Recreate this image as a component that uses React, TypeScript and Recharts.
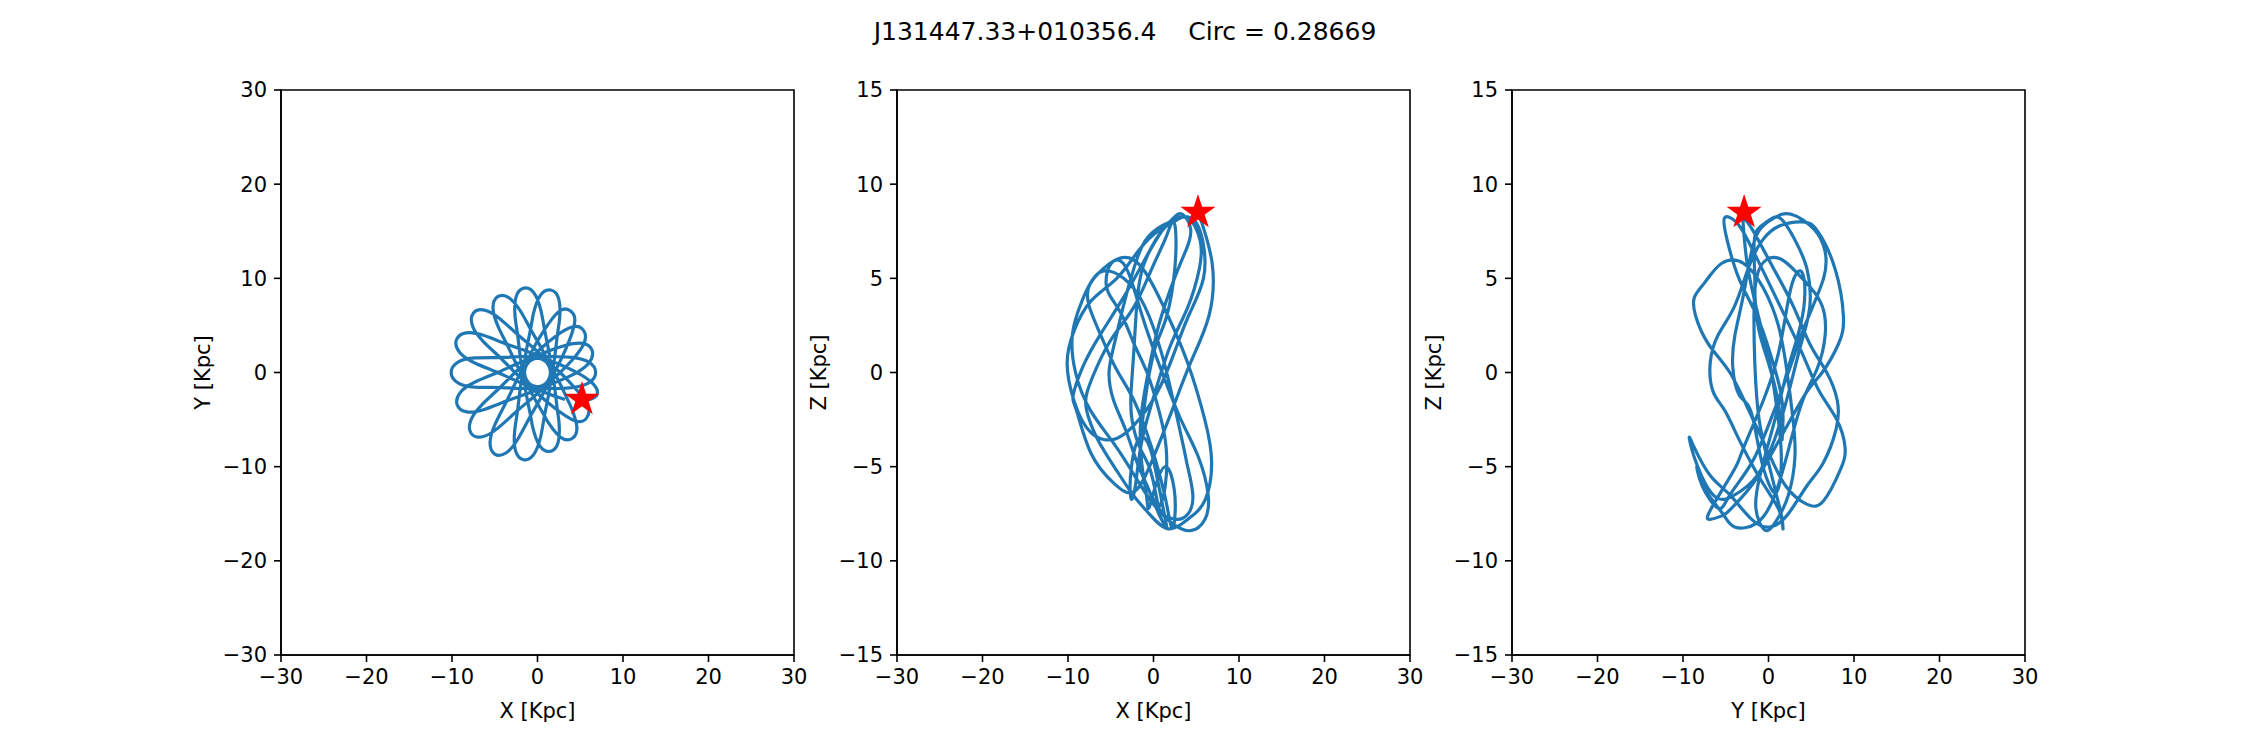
import React from 'react';
import { ScatterChart, Scatter, XAxis, YAxis, ReferenceArea } from 'recharts';

const TITLE = 'J131447.33+010356.4    Circ = 0.28669';
const XY_TICKS = [-30, -20, -10, 0, 10, 20, 30];
const Z_TICKS = [-15, -10, -5, 0, 5, 10, 15];

// orbit path (kpc)
const ORBIT_X = [
  5.25, 6.86, 6.48, 4.31, 2.18, 0.0, -2.18,
  -4.59, -7.3, -9.02, -9.4, -8.27, -6.24, -3.49, -1.01, 0.96, 2.32,
  3.39, 4.35, 3.8, 2.45, 0.61, -0.62, -1.48, -1.38,
  -0.83, -0.54, 0.25, 1.48, 2.42, 2.52, 2.32, 1.97, 1.3, -0.21,
  -2.27, -4.37, -6.19, -7.51, -7.6, -6.36, -4.32, -2.39, -0.51, 1.7,
  4.0, 6.0, 6.8, 6.0, 4.0, 1.7, -0.51, -2.39,
  -4.32, -6.59, -7.83, -7.74, -6.42, -4.6, -2.27, -0.21, 1.3, 1.97,
  2.32, 2.59, 2.49, 1.55, 0.32, -0.47, -0.83, -1.38, -1.48, -0.62,
  0.76, 1.31, 2.7, 4.05, 4.6, 3.99, 3.54, 2.32, 0.96, -1.01,
  -3.49, -6.33, -8.36, -9.49, -9.12, -7.39, -4.59, -2.18, 0.0, 2.18,
  4.31, 6.01, 6.39, 5.26, 3.21, 1.01, -0.96, -2.32,
  -3.54, -4.94, -5.55, -5.0, -3.65, -2.26, -0.76, 0.62, 1.48, 1.38,
  0.83, 0.43, -0.36, -1.58, -2.52, -2.62, -2.32, -1.97, -1.3, 0.21,
  2.04, 4.43, 5.75, 5.84, 4.09, 2.39, 0.51, -1.7,
  -4.3, -7.3, -9.3, -10.1, -9.3, -7.3, -4.3, -1.7, 0.51, 2.39,
  4.09, 5.46, 5.36, 4.04, 2.04, 0.21, -1.3, -1.97,
  -2.32, -2.67, -2.58, -1.63, -0.41, 0.38, 0.83, 1.38, 1.48, 0.62,
  -0.76, -1.91, -3.3, -4.65, -5.2, -4.59, -3.54, -2.32, -0.96, 1.01, 3.21,
];
const ORBIT_Y = [
  -3.05, -2.5, -1.19, 0.14, 1.01, 1.5, 1.01,
  0.03, -1.01, -2.11, -3.42, -4.18, -3.92, -2.98, -2.18, -1.15, 0.62,
  2.66, 5.34, 6.58, 6.44, 4.26, 2.32, 0.26, -1.97,
  -4.51, -5.88, -7.77, -8.37, -7.39, -5.34, -3.96, -1.38, 0.75, 2.39,
  3.99, 5.69, 6.63, 6.3, 4.94, 3.31, 1.54, -0.21, -1.41, -1.7,
  -1.6, -1.1, 0.0, 1.1, 1.6, 1.7, 1.41, 0.21,
  -1.54, -3.51, -5.14, -6.49, -6.82, -5.88, -3.99, -2.39, -0.75, 1.38,
  3.96, 5.74, 7.79, 8.76, 8.17, 6.28, 4.51, 1.97, -0.26, -2.32,
  -4.52, -5.37, -6.87, -7.01, -5.77, -3.82, -2.92, -0.62, 1.15, 2.18,
  2.97, 3.95, 4.21, 3.45, 2.15, 1.04, -0.03, -1.01, -1.5, -1.01,
  -0.14, 1.02, 2.33, 3.09, 2.87, 2.18, 1.15, -0.62,
  -2.92, -5.46, -7.42, -8.66, -8.52, -7.01, -4.52, -2.32, -0.26, 1.97,
  4.51, 6.47, 8.37, 8.96, 7.98, 5.94, 3.96, 1.38, -0.75, -2.39,
  -3.8, -5.15, -4.82, -3.46, -1.35, 0.21, 1.41, 1.7,
  1.6, 1.55, 1.1, 0.0, -1.1, -1.55, -1.6, -1.7, -1.41, -0.21,
  1.35, 3.14, 4.5, 4.83, 3.8, 2.39, 0.75, -1.38,
  -3.96, -6.23, -8.28, -9.26, -8.66, -6.77, -4.51, -1.97, 0.26, 2.32,
  4.52, 6.4, 7.91, 8.05, 6.81, 4.85, 2.92, 0.62, -1.15, -2.18, -2.87,
];
const ORBIT_Z = [
  8.5, 5.8, 3.0, 0.5, -2.0, -4.5, -6.3,
  -5.9, -4.3, -2.0, -1.2, 0.3, 2.0, 4.0, 6.0, 7.5, 8.2,
  8.4, 7.6, 6.5, 5.0, 2.5, 0.0, -2.5, -4.8,
  -6.5, -7.2, -6.0, -5.0, -6.2, -7.5, -8.2, -8.0, -6.5, -4.0,
  -1.5, 0.2, 2.0, 3.5, 4.5, 5.3, 6.0, 6.0, 5.0, 3.0,
  0.5, -2.5, -4.8, -6.8, -7.8, -8.3, -7.5, -6.5,
  -5.2, -3.5, -2.0, -1.0, 0.5, 2.0, 3.5, 5.5, 7.0, 7.8,
  8.0, 7.5, 5.5, 3.0, 1.5, 0.0, -1.0, -3.0, -4.8, -6.2,
  -7.3, -7.6, -7.8, -7.5, -6.5, -5.0, -4.0, -1.5, 1.0, 3.5,
  5.0, 5.3, 3.8, 2.0, 0.0, -2.0, -3.8, -5.5, -7.0, -8.0,
  -8.4, -7.8, -6.5, -4.5, -2.5, 0.0, 2.5, 4.5,
  5.8, 5.8, 4.8, 4.0, 3.0, 1.5, 0.0, -2.0, -4.0, -6.0,
  -7.0, -6.8, -5.2, -4.0, -2.5, -1.0, 1.0, 3.5, 5.5, 7.0,
  8.0, 8.2, 7.0, 5.0, 3.0, 1.0, -1.0, -2.5,
  -3.5, -3.2, -1.5, 0.5, 2.2, 3.8, 5.0, 6.5, 7.5, 8.0,
  8.2, 7.0, 5.5, 3.5, 1.5, -1.0, -3.5, -5.5,
  -6.5, -6.6, -5.0, -3.5, -4.0, -5.5, -6.5, -7.8, -8.2, -7.5,
  -6.0, -4.8, -3.0, -1.5, 0.0, 1.5, 3.5, 5.5, 7.0, 7.8, 8.2,
];
// current position (red star)
const STAR_X = 5.2;
const STAR_Y = -2.85;
const STAR_Z = 8.5;

// unit five-point star outline (marker glyph)
const STAR_GLYPH = [
  [0, -1], [0.2245, -0.309], [0.9511, -0.309], [0.3633, 0.118], [0.5878, 0.809],
  [0, 0.382], [-0.5878, 0.809], [-0.3633, 0.118], [-0.9511, -0.309], [-0.2245, -0.309],
];
const STAR_R = 16;

const FONT = '"DejaVu Sans", sans-serif';
const fmt = (v: number) => (v < 0 ? '\u2212' + Math.abs(v) : String(v));

type Pt = { h: number; v: number };

const StarMark = (p: any) => {
  const cx = p.cx as number;
  const cy = p.cy as number;
  const d =
    STAR_GLYPH.map((q, i) => `${i === 0 ? 'M' : 'L'}${cx + q[0] * STAR_R},${cy + q[1] * STAR_R}`).join(' ') + ' Z';
  return <path d={d} fill="#ff0000" stroke="#ff0000" strokeWidth={1.5} strokeLinejoin="miter" />;
};

const PLOT_W = 513;
const PLOT_H = 565;
const M_LEFT = 52;
const Y_W = 78;
const X_H = 63;
const M_TOP = 30;
const M_RIGHT = 20;
const M_BOTTOM = 20;

function Panel(props: {
  plotLeft: number;
  data: Pt[];
  star: Pt[];
  yTicks: number[];
  yDomain: [number, number];
  xLabel: string;
  yLabel: string;
}) {
  const { plotLeft, data, star, yTicks, yDomain, xLabel, yLabel } = props;
  const w = M_LEFT + Y_W + PLOT_W + M_RIGHT;
  const h = M_TOP + PLOT_H + X_H + M_BOTTOM;
  return (
    <div style={{ position: 'absolute', left: plotLeft - M_LEFT - Y_W, top: 90 - M_TOP }}>
      <ScatterChart
        width={w}
        height={h}
        margin={{ top: M_TOP, right: M_RIGHT, bottom: M_BOTTOM, left: M_LEFT }}
      >
        <XAxis
          type="number"
          dataKey="h"
          domain={[-30, 30]}
          ticks={XY_TICKS}
          interval={0}
          allowDataOverflow
          tickFormatter={fmt}
          tickSize={7}
          tickMargin={7}
          height={X_H}
          tick={{ fill: '#000', fontSize: 21, fontFamily: FONT }}
          axisLine={{ stroke: '#000', strokeWidth: 1.6 }}
          tickLine={{ stroke: '#000', strokeWidth: 1.6 }}
          label={{
            value: xLabel,
            position: 'insideBottom',
            offset: 0,
            style: { fill: '#000', fontSize: 21, fontFamily: FONT, textAnchor: 'middle' },
          }}
        />
        <YAxis
          type="number"
          dataKey="v"
          domain={yDomain}
          ticks={yTicks}
          interval={0}
          allowDataOverflow
          tickFormatter={fmt}
          tickSize={7}
          tickMargin={7}
          width={Y_W}
          tick={{ fill: '#000', fontSize: 21, fontFamily: FONT }}
          axisLine={{ stroke: '#000', strokeWidth: 1.6 }}
          tickLine={{ stroke: '#000', strokeWidth: 1.6 }}
          label={{
            value: yLabel,
            angle: -90,
            position: 'insideLeft',
            offset: 0,
            style: { fill: '#000', fontSize: 21, fontFamily: FONT, textAnchor: 'middle' },
          }}
        />
        <Scatter
          data={data}
          fill="#1f77b4"
          line={{ stroke: '#1f77b4', strokeWidth: 3.2 }}
          lineType="joint"
          lineJointType="natural"
          shape={() => <g />}
          isAnimationActive={false}
        />
        <Scatter data={star} fill="#ff0000" shape={StarMark} isAnimationActive={false} />
        <ReferenceArea
          x1={-30}
          x2={30}
          y1={yDomain[0]}
          y2={yDomain[1]}
          fill="none"
          fillOpacity={0}
          stroke="#000"
          strokeWidth={1.6}
          ifOverflow="visible"
        />
      </ScatterChart>
    </div>
  );
}

export default function App() {
  const xy: Pt[] = ORBIT_X.map((x, i) => ({ h: x, v: ORBIT_Y[i] }));
  const xz: Pt[] = ORBIT_X.map((x, i) => ({ h: x, v: ORBIT_Z[i] }));
  const yz: Pt[] = ORBIT_Y.map((y, i) => ({ h: y, v: ORBIT_Z[i] }));
  return (
    <div style={{ position: 'absolute', left: 0, top: 0, width: 2250, height: 750, background: '#fff' }}>
      <svg width={2250} height={70} style={{ position: 'absolute', left: 0, top: 0 }}>
        <text
          x={1125}
          y={40}
          textAnchor="middle"
          xmlSpace="preserve"
          style={{ whiteSpace: 'pre', fontFamily: FONT, fontSize: 25, fill: '#000' }}
        >
          {TITLE}
        </text>
      </svg>
      <Panel plotLeft={281} data={xy} star={[{ h: STAR_X, v: STAR_Y }]} yTicks={XY_TICKS} yDomain={[-30, 30]} xLabel="X [Kpc]" yLabel="Y [Kpc]" />
      <Panel plotLeft={897} data={xz} star={[{ h: STAR_X, v: STAR_Z }]} yTicks={Z_TICKS} yDomain={[-15, 15]} xLabel="X [Kpc]" yLabel="Z [Kpc]" />
      <Panel plotLeft={1512} data={yz} star={[{ h: STAR_Y, v: STAR_Z }]} yTicks={Z_TICKS} yDomain={[-15, 15]} xLabel="Y [Kpc]" yLabel="Z [Kpc]" />
    </div>
  );
}
